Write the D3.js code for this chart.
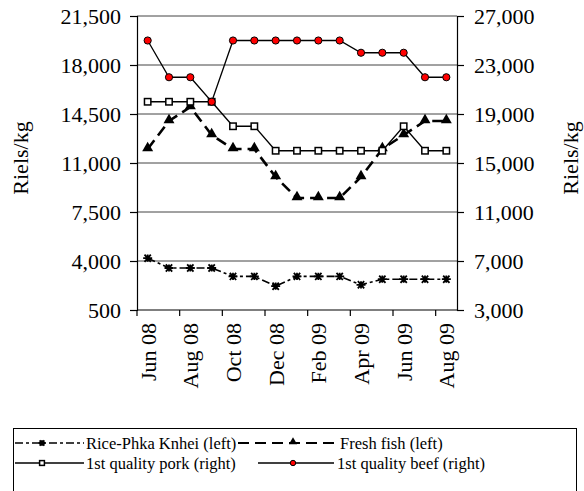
<!DOCTYPE html>
<html>
<head>
<meta charset="utf-8">
<script src="https://cdn.jsdelivr.net/npm/d3@7"></script>
<style>
  body { margin: 0; background: #fff; }
  svg { display: block; font-family: "Liberation Serif", "Times New Roman", serif; }
</style>
</head>
<body>
<svg id="chart"></svg>
<script>
var months = ['Jun 08','Jul 08','Aug 08','Sep 08','Oct 08','Nov 08','Dec 08','Jan 09',
              'Feb 09','Mar 09','Apr 09','May 09','Jun 09','Jul 09','Aug 09'];

// left axis series
var rice = [4200,3500,3500,3500,2900,2900,2200,2900,2900,2900,2300,2700,2700,2700,2700];
var fish = [12000,14000,15000,13000,12000,12000,10000,8500,8500,8500,10000,12000,13000,14000,14000];
// right axis series
var pork = [20000,20000,20000,20000,18000,18000,16000,16000,16000,16000,16000,16000,18000,16000,16000];
var beef = [25000,22000,22000,20000,25000,25000,25000,25000,25000,25000,24000,24000,24000,22000,22000];

var leftTicks = [500,4000,7500,11000,14500,18000,21500];
var rightTicks = [3000,7000,11000,15000,19000,23000,27000];

var width = 584, height = 491;
var plot = {left: 137, right: 457, top: 16, bottom: 310};

var svg = d3.select('#chart').attr('width', width).attr('height', height);

var x = d3.scaleBand().domain(months).range([plot.left, plot.right]).padding(0);
var yL = d3.scaleLinear().domain([500, 21500]).range([plot.bottom, plot.top]);
var yR = d3.scaleLinear().domain([3000, 27000]).range([plot.bottom, plot.top]);

var cx = function(i){ return x(months[i]) + x.bandwidth()/2; };

// gridlines
svg.append('g').selectAll('line')
  .data(leftTicks.slice(1))
  .enter().append('line')
  .attr('x1', plot.left).attr('x2', plot.right)
  .attr('y1', function(d){ return yL(d); }).attr('y2', function(d){ return yL(d); })
  .attr('stroke', '#444').attr('stroke-width', 1);

// left axis
var gl = svg.append('g').attr('transform', 'translate(' + plot.left + ',0)')
  .call(d3.axisLeft(yL).tickValues(leftTicks).tickSize(7).tickPadding(9));
// right axis
var gr = svg.append('g').attr('transform', 'translate(' + plot.right + ',0)')
  .call(d3.axisRight(yR).tickValues(rightTicks).tickSize(7).tickPadding(10));
[gl, gr].forEach(function(g){
  g.select('.domain').attr('stroke', '#000').attr('stroke-width', 1.2);
  g.selectAll('.tick line').attr('stroke', '#000').attr('stroke-width', 1.2);
  g.selectAll('.tick text').attr('font-size', 22).attr('font-family', '"Liberation Serif", serif').attr('fill', '#000');
});

// bottom axis
svg.append('line').attr('x1', plot.left).attr('x2', plot.right)
  .attr('y1', plot.bottom).attr('y2', plot.bottom).attr('stroke', '#000').attr('stroke-width', 1.2);
var labelIdx = d3.range(0, months.length, 2);
svg.append('g').selectAll('line')
  .data(labelIdx).enter().append('line')
  .attr('x1', function(i){ return x(months[i]); }).attr('x2', function(i){ return x(months[i]); })
  .attr('y1', plot.bottom).attr('y2', plot.bottom + 6)
  .attr('stroke', '#000').attr('stroke-width', 1.2);
svg.append('g').selectAll('text')
  .data(labelIdx).enter().append('text')
  .attr('transform', function(i){ return 'translate(' + (cx(i) + 8) + ',' + (plot.bottom + 13) + ') rotate(-90)'; })
  .attr('text-anchor', 'end')
  .attr('font-size', 22)
  .text(function(i){ return months[i]; });

// axis titles
svg.append('text').attr('transform', 'translate(28,158) rotate(-90)')
  .attr('text-anchor', 'middle').attr('font-size', 22).text('Riels/kg');
svg.append('text').attr('transform', 'translate(578,158) rotate(-90)')
  .attr('text-anchor', 'middle').attr('font-size', 22).text('Riels/kg');

// series
var series = [
  {name: 'Rice-Phka Knhei (left)', values: rice, y: yL, dash: '8,3,3,3', sw: 1.6, marker: 'star'},
  {name: 'Fresh fish (left)', values: fish, y: yL, dash: '11,6', sw: 2.6, marker: 'triangle'},
  {name: '1st quality pork (right)', values: pork, y: yR, dash: null, sw: 1.3, marker: 'square'},
  {name: '1st quality beef (right)', values: beef, y: yR, dash: null, sw: 1.3, marker: 'circle'}
];

function drawMarker(g, type, px, py, s) {
  s = s || 1;
  if (type === 'star') {
    var r = 4.5 * s;
    g.append('path')
      .attr('d', 'M' + (px-r) + ',' + py + 'H' + (px+r) +
                 'M' + (px-r*0.7) + ',' + (py-r*0.8) + 'L' + (px+r*0.7) + ',' + (py+r*0.8) +
                 'M' + (px-r*0.7) + ',' + (py+r*0.8) + 'L' + (px+r*0.7) + ',' + (py-r*0.8) +
                 'M' + px + ',' + (py-r*0.8) + 'V' + (py+r*0.8))
      .attr('stroke', '#000').attr('stroke-width', 1.8);
  } else if (type === 'triangle') {
    g.append('path').attr('d', d3.symbol(d3.symbolTriangle, 52 * s * s)())
      .attr('transform', 'translate(' + px + ',' + (py - 1) + ')').attr('fill', '#000');
  } else if (type === 'square') {
    var a = 3.2 * s;
    g.append('rect').attr('x', px - a).attr('y', py - a).attr('width', 2*a).attr('height', 2*a)
      .attr('fill', '#fff').attr('stroke', '#000').attr('stroke-width', 1.5);
  } else {
    g.append('circle').attr('cx', px).attr('cy', py).attr('r', 3.6 * s)
      .attr('fill', '#ff0000').attr('stroke', '#000').attr('stroke-width', 1);
  }
}

series.forEach(function(s){
  var line = d3.line().x(function(d, i){ return cx(i); }).y(function(d){ return s.y(d); });
  svg.append('path').datum(s.values)
    .attr('d', line).attr('fill', 'none').attr('stroke', '#000')
    .attr('stroke-width', s.sw).attr('stroke-dasharray', s.dash);
  var mg = svg.append('g');
  s.values.forEach(function(v, i){ drawMarker(mg, s.marker, cx(i), s.y(v)); });
});

// legend
var lg = svg.append('g');
lg.append('rect').attr('x', 13.5).attr('y', 428.5).attr('width', 563).attr('height', 70)
  .attr('fill', 'none').attr('stroke', '#000').attr('stroke-width', 1);
var legendPos = [
  {x0: 15, x1: 84, mx: 42, tx: 86, y: 443},
  {x0: 238, x1: 337, mx: 293, tx: 340, y: 443},
  {x0: 15, x1: 84, mx: 42, tx: 86, y: 463},
  {x0: 258, x1: 334, mx: 293, tx: 337, y: 463}
];
series.forEach(function(s, i){
  var p = legendPos[i];
  lg.append('line').attr('x1', p.x0).attr('x2', p.x1).attr('y1', p.y).attr('y2', p.y)
    .attr('stroke', '#000').attr('stroke-width', Math.min(s.sw, 1.8)).attr('stroke-dasharray', s.dash);
  drawMarker(lg, s.marker, p.mx, p.y, 0.75);
  lg.append('text').attr('x', p.tx).attr('y', p.y + 5.5).attr('font-size', 16.5).text(s.name);
});
</script>
</body>
</html>
